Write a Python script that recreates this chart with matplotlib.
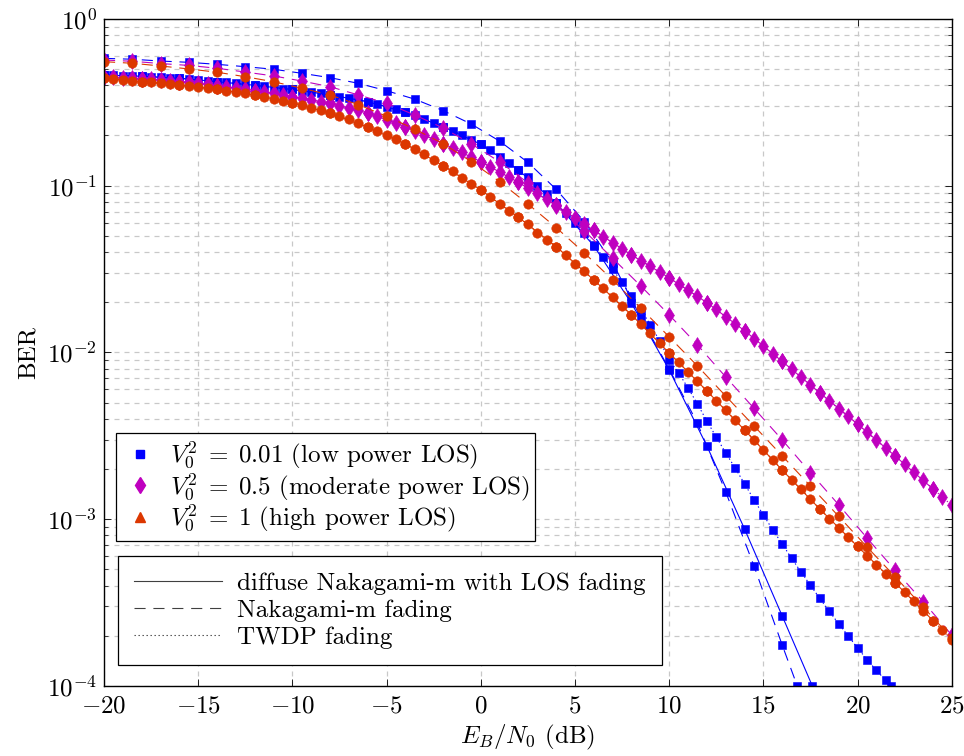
import numpy as np
import matplotlib
matplotlib.use('Agg')
import matplotlib.pyplot as plt
from matplotlib.lines import Line2D
from matplotlib.ticker import LogLocator, NullLocator, MultipleLocator, NullFormatter

plt.rcParams['font.family'] = 'serif'
plt.rcParams['font.serif'] = ['cmr10']
plt.rcParams['mathtext.fontset'] = 'cm'
plt.rcParams['axes.formatter.use_mathtext'] = True
plt.rcParams['axes.unicode_minus'] = True

# SNR grids (dB) of the three data sets
snr_fine = np.arange(-20, 25.5, 0.5)      # TWDP, 0.5 dB steps
snr_nak = np.arange(-20, 25.5, 1.5)       # Nakagami-m, 1.5 dB steps
snr_diff = np.arange(-20, 25, 2.0)        # diffuse Nakagami-m with LOS, 2 dB steps

# ---- V0^2 = 0.01 (low power LOS) ----
twdp_low = [0.461, 0.461, 0.4565, 0.4546, 0.4527, 0.450, 0.4466, 0.4441, 0.4405, 0.4362,
            0.4302, 0.4261, 0.4202, 0.4168, 0.4110, 0.4054, 0.3998, 0.3943, 0.3868, 0.3815,
            0.3773, 0.3711, 0.3660, 0.3581, 0.3498, 0.3417, 0.3342, 0.3265, 0.3189, 0.3090,
            0.2977, 0.2884, 0.2754, 0.2635, 0.2511, 0.2385, 0.2258, 0.2128, 0.2021, 0.1887,
            0.1771, 0.1637, 0.1492, 0.1362, 0.1242, 0.1123, 0.0996, 0.0892, 0.0784, 0.0689,
            0.0600, 0.0517, 0.0441, 0.0374, 0.0315, 0.0263, 0.0218, 0.0180, 0.0147, 0.01172,
            0.00902, 0.00754, 0.00613, 0.00491, 0.00388, 0.00311, 0.00250, 0.00203, 0.00163, 0.00131,
            0.00106, 0.000863, 0.000711, 0.000582, 0.000483, 0.000401, 0.000335, 0.000280, 0.000236, 0.000200,
            0.000169, 0.000144, 0.000124, 0.000108]
twdp_low_end = (21.75, 1e-4)
nak_low = [0.580, 0.573, 0.559, 0.549, 0.534, 0.517, 0.499, 0.472, 0.444, 0.411,
           0.371, 0.330, 0.282, 0.234, 0.185, 0.138, 0.0951, 0.0608, 0.0345, 0.0161,
           0.00796, 0.00376, 0.00146, 0.000525, 0.000176]
nak_low_end = (16.8, 1e-4)
diff_low = [0.461, 0.4527, 0.4405, 0.4202, 0.3998, 0.3773, 0.3498, 0.3189, 0.2754, 0.2258,
            0.1771, 0.1242, 0.0784, 0.0436, 0.0197, 0.00786, 0.00275, 0.000875, 0.000263]
diff_low_end = (17.6, 1e-4)

# ---- V0^2 = 0.5 (moderate power LOS) ----
twdp_mod = [0.4501, 0.4476, 0.4452, 0.4421, 0.4385, 0.4349, 0.4307, 0.4260, 0.4213, 0.4161,
            0.4104, 0.4048, 0.3987, 0.3922, 0.3857, 0.3789, 0.3721, 0.3650, 0.3575, 0.3502,
            0.3425, 0.3350, 0.3273, 0.3192, 0.3110, 0.3025, 0.2938, 0.2835, 0.2728, 0.2607,
            0.2487, 0.2369, 0.2258, 0.2131, 0.2010, 0.1897, 0.1788, 0.1685, 0.1586, 0.1486,
            0.1393, 0.1298, 0.1208, 0.1124, 0.1045, 0.0970, 0.0898, 0.0829, 0.0761, 0.0697,
            0.0640, 0.0588, 0.0540, 0.0495, 0.0454, 0.0417, 0.0384, 0.0355, 0.0328, 0.0303,
            0.0280, 0.0257, 0.0237, 0.0217, 0.0199, 0.0181, 0.0164, 0.0149, 0.0135, 0.0121,
            0.0109, 0.00983, 0.00884, 0.00794, 0.00713, 0.00639, 0.00572, 0.00512, 0.00460, 0.00414,
            0.00372, 0.00333, 0.00298, 0.00267, 0.00239, 0.00214, 0.00191, 0.00171, 0.00152, 0.00136,
            0.00121]
nak_mod = [0.567, 0.557, 0.540, 0.526, 0.506, 0.480, 0.455, 0.424, 0.392, 0.350,
           0.312, 0.265, 0.222, 0.178, 0.139, 0.104, 0.0755, 0.0535, 0.0367, 0.0250,
           0.0168, 0.0111, 0.00713, 0.00463, 0.00299, 0.00190, 0.00122, 0.000772, 0.000493, 0.000319,
           0.000202]
diff_mod = [0.4501, 0.4385, 0.4213, 0.3987, 0.3721, 0.3425, 0.3110, 0.2728, 0.2258, 0.1788,
            0.1393, 0.1045, 0.0761, 0.0540, 0.0384, 0.0280, 0.0199, 0.0135, 0.00884, 0.00572,
            0.00372, 0.00239, 0.00152]

# ---- V0^2 = 1 (high power LOS) ----
twdp_high = [0.4405, 0.4362, 0.4302, 0.4261, 0.4202, 0.4168, 0.4110, 0.4054, 0.4015, 0.3960,
             0.3890, 0.3836, 0.3784, 0.3711, 0.3645, 0.3581, 0.3498, 0.3417, 0.3323, 0.3232,
             0.3144, 0.3046, 0.2934, 0.2831, 0.2716, 0.2607, 0.2501, 0.2376, 0.2239, 0.2137,
             0.2013, 0.1897, 0.1778, 0.1653, 0.1543, 0.1425, 0.1318, 0.1225, 0.1117, 0.1024,
             0.0942, 0.0859, 0.0777, 0.0708, 0.0646, 0.0587, 0.0523, 0.0472, 0.0431, 0.0384,
             0.0339, 0.0306, 0.0272, 0.0242, 0.0214, 0.0189, 0.0168, 0.0148, 0.0130, 0.01135,
             0.00993, 0.00871, 0.00764, 0.00670, 0.00588, 0.00514, 0.00450, 0.00394, 0.00343, 0.00299,
             0.00260, 0.00227, 0.00197, 0.00173, 0.00151, 0.00132, 0.00115, 0.00101, 0.000887, 0.000780,
             0.000687, 0.000605, 0.000532, 0.000470, 0.000415, 0.000366, 0.000322, 0.000282, 0.000247, 0.000217,
             0.000189]
nak_high = [0.554, 0.542, 0.522, 0.501, 0.479, 0.450, 0.420, 0.384, 0.350, 0.306,
            0.261, 0.218, 0.1786, 0.1393, 0.1057, 0.0777, 0.0561, 0.0395, 0.0272, 0.0184,
            0.0124, 0.00830, 0.00548, 0.00363, 0.00240, 0.00158, 0.00104, 0.000682, 0.000451, 0.000296,
            0.000194]
diff_high = [0.4405, 0.4202, 0.4015, 0.3784, 0.3498, 0.3144, 0.2716, 0.2239, 0.1778, 0.1318,
             0.0942, 0.0646, 0.0431, 0.0272, 0.0168, 0.00993, 0.00588, 0.00343, 0.00197, 0.00115,
             0.000687, 0.000415, 0.000247]

legend_los = [r'$V_0^2\;=\;0.01$ (low power LOS)',
              r'$V_0^2\;=\;0.5$ (moderate power LOS)',
              r'$V_0^2\;=\;1$ (high power LOS)']
legend_models = ['diffuse Nakagami-m with LOS fading', 'Nakagami-m fading', 'TWDP fading']

c_blue = '#0000ff'
c_mag = '#bf00bf'
c_red = '#dc3700'

fontsize = 18
lw = 0.8
dashed = (0, (10, 7))
dotted = (0, (1.2, 2.4))


def with_end(x, y, end=None):
    x = list(x[:len(y)])
    y = list(y)
    if end is not None:
        x.append(end[0])
        y.append(end[1])
    return x, y


fig, ax = plt.subplots(figsize=(9.64, 7.56), dpi=100)
fig.subplots_adjust(left=0.1079, right=0.9873, bottom=0.0926, top=0.975)

groups = [
    (c_blue, 's', 5.8, diff_low, diff_low_end, nak_low, nak_low_end, twdp_low, twdp_low_end),
    (c_mag, 'd', 7.8, diff_mod, None, nak_mod, None, twdp_mod, None),
    (c_red, 'o', 6.8, diff_high, None, nak_high, None, twdp_high, None),
]

for color, mk, ms, diff, diff_end, nak, nak_end, twdp, twdp_end in groups:
    style = dict(color=color, marker=mk, markersize=ms, linewidth=lw,
                 markeredgewidth=0.4, markeredgecolor=color)
    x, y = with_end(snr_diff, diff, diff_end)
    ax.plot(x, y, linestyle='-', **style)
    x, y = with_end(snr_nak, nak, nak_end)
    ax.plot(x, y, linestyle=dashed, **style)
    x, y = with_end(snr_fine, twdp, twdp_end)
    ax.plot(x, y, linestyle=dotted, **style)

ax.set_yscale('log')
ax.set_xlim(-20, 25)
ax.set_ylim(1e-4, 1)
ax.xaxis.set_major_locator(MultipleLocator(5))
ax.xaxis.set_minor_locator(NullLocator())
ax.yaxis.set_major_locator(LogLocator(base=10, numticks=10))
ax.yaxis.set_minor_locator(LogLocator(base=10, subs=np.arange(2, 10), numticks=10))
ax.yaxis.set_minor_formatter(NullFormatter())

ax.grid(which='major', color='#c8c8c8', linestyle=(0, (4, 4)), linewidth=0.9)
ax.grid(which='minor', axis='y', color='#c8c8c8', linestyle=(0, (4, 4)), linewidth=0.9)
ax.set_axisbelow(True)
ax.tick_params(which='both', direction='in', top=True, right=True, labelsize=fontsize)
ax.tick_params(which='major', length=5, width=0.6)
ax.tick_params(which='minor', length=3, width=0.5)
ax.tick_params(axis='x', pad=7)
ax.tick_params(axis='y', pad=5)
for s in ax.spines.values():
    s.set_linewidth(1.0)

ax.set_xlabel(r'$E_B/N_0$ (dB)', fontsize=fontsize, labelpad=4)
ax.set_ylabel('BER', fontsize=fontsize, labelpad=5)

# legend for the LOS power levels (markers only)
los_handles = [
    Line2D([], [], color=c_blue, marker='s', markersize=5.8, linestyle='none'),
    Line2D([], [], color=c_mag, marker='d', markersize=7.8, linestyle='none'),
    Line2D([], [], color=c_red, marker='^', markersize=6.8, linestyle='none'),
]
leg1 = ax.legend(los_handles, legend_los, loc='upper left', bbox_to_anchor=(0.014, 0.379),
                 borderaxespad=0, fontsize=fontsize, frameon=True, fancybox=False,
                 edgecolor='black', framealpha=1, handlelength=1.4, handletextpad=0.5,
                 labelspacing=0.0, borderpad=0.25)
leg1.get_frame().set_linewidth(0.9)
ax.add_artist(leg1)

# legend for the fading models (line styles only)
model_handles = [
    Line2D([], [], color='0.25', linestyle='-', linewidth=lw),
    Line2D([], [], color='0.25', linestyle=dashed, linewidth=lw),
    Line2D([], [], color='0.25', linestyle=dotted, linewidth=lw),
]
leg2 = ax.legend(model_handles, legend_models, loc='upper left', bbox_to_anchor=(0.0165, 0.195),
                 borderaxespad=0, fontsize=fontsize, frameon=True, fancybox=False,
                 edgecolor='black', framealpha=1, handlelength=3.5, handletextpad=0.6,
                 labelspacing=0.18, borderpad=0.65)
leg2.get_frame().set_linewidth(0.9)

plt.savefig('out.png', dpi=100)
